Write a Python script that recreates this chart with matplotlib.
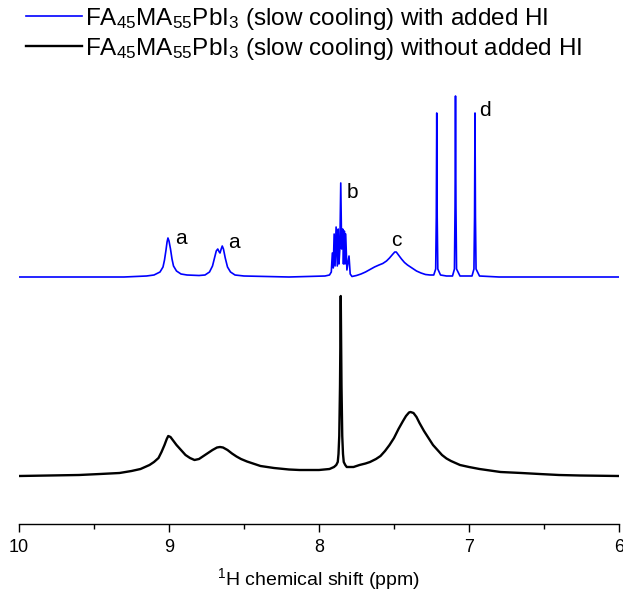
import matplotlib
matplotlib.use("Agg")
import matplotlib.pyplot as plt

plt.rcParams['font.family'] = ['Liberation Sans', 'DejaVu Sans']
plt.rcParams['mathtext.default'] = 'regular'

# spectrum with added HI (intensity above its own baseline)
ppm_hi = [10.0, 9.5, 9.3, 9.15, 9.10, 9.06, 9.04, 9.03, 9.02, 9.013, 9.007, 9.0, 8.99, 8.98,
          8.97, 8.95, 8.92, 8.88, 8.8, 8.76, 8.73, 8.71, 8.695, 8.685, 8.675, 8.665, 8.66,
          8.652, 8.645, 8.637, 8.625, 8.61, 8.59, 8.56, 8.5,
          8.2, 7.96, 7.93, 7.918, 7.911, 7.905, 7.899, 7.893, 7.886, 7.878, 7.872, 7.867,
          7.861, 7.855, 7.849, 7.842, 7.837, 7.831, 7.827, 7.822, 7.814, 7.80, 7.792,
          7.78, 7.75, 7.72, 7.69, 7.66, 7.63, 7.60, 7.575, 7.55, 7.53, 7.51, 7.495, 7.485,
          7.47, 7.45, 7.43, 7.41, 7.39, 7.37, 7.35, 7.32, 7.29, 7.26, 7.235,
          7.222, 7.218, 7.215, 7.212, 7.208, 7.19, 7.15, 7.11,
          7.097, 7.093, 7.09, 7.087, 7.083, 7.06, 7.02, 6.98, 6.967, 6.963, 6.96, 6.957,
          6.953, 6.93, 6.8, 6.5, 6.2, 6.0]
int_hi = [0, 0, 0, 1, 2, 5, 10, 17, 27, 35, 39, 36, 28, 18,
          11, 6, 3, 2, 1.5, 2, 5, 11, 20, 26, 28, 25, 24,
          28, 31, 28, 19, 10, 5, 2, 1,
          0, 1, 2, 5, 24, 9, 43, 11, 50, 11, 48, 13,
          28, 94, 28, 48, 13, 46, 13, 43, 7, 21, 3,
          0.5, 1.5, 3, 5, 7.5, 10, 12, 13.5, 16, 19, 22.5, 25, 25,
          22, 18, 14.5, 12, 10, 8, 6, 4, 2.5, 2, 2,
          8, 60, 164, 60, 8, 2, 1, 1,
          8, 70, 181, 70, 8, 1, 1, 1, 8, 60, 164, 60,
          8, 1, 0, 0, 0, 0]

# spectrum without added HI
ppm_no = [10.0, 9.8, 9.6, 9.46, 9.33, 9.25, 9.19, 9.13, 9.10, 9.07, 9.05, 9.03, 9.015,
          9.005, 8.99, 8.97, 8.95, 8.92, 8.89, 8.86, 8.83, 8.80, 8.77, 8.74, 8.71, 8.68,
          8.66, 8.64, 8.61, 8.58, 8.55, 8.52, 8.48, 8.44, 8.39, 8.3, 8.2, 8.13, 8.0,
          7.93, 7.9, 7.885, 7.875, 7.87, 7.865, 7.86, 7.855, 7.85, 7.845, 7.84, 7.835,
          7.825, 7.815, 7.77, 7.73, 7.69, 7.66, 7.62, 7.59, 7.56, 7.53, 7.50, 7.47, 7.44,
          7.42, 7.40, 7.39, 7.37, 7.35, 7.33, 7.30, 7.27, 7.24, 7.21, 7.18, 7.15, 7.12,
          7.09, 7.06, 7.0, 6.93, 6.86, 6.79, 6.65, 6.53, 6.4, 6.26, 6.0]
int_no = [0, 0.5, 1, 2, 3, 5, 7, 11, 14, 18, 24, 31, 37,
          40, 39, 35, 31, 26, 21, 18, 16, 17, 20, 23, 26, 28.5,
          29, 28.5, 26, 22.5, 19.5, 17, 14.5, 12.5, 10, 8, 6.5, 6, 6,
          7, 9, 11, 14, 22, 40, 90, 180, 90, 40, 22, 14,
          11, 9, 9, 11, 12.5, 14, 17, 20, 25, 31, 38, 47, 55,
          60, 63.5, 64, 63, 59, 53, 45, 38, 31, 26, 21, 17.5, 15,
          13, 11, 9, 7, 5.5, 4, 3, 2, 1, 0.5, 0]

offset_hi = 199

peak_labels = ['a', 'a', 'b', 'c', 'd']
label_ppm = [8.92, 8.565, 7.778, 7.482, 6.893]
label_y = [238, 233, 283, 236, 365]

fig = plt.figure(figsize=(6.23, 6.02), dpi=100)
ax = fig.add_axes([19/623, 1 - 524/602, 600/623, 519/602])

ax.plot(ppm_hi, [v + offset_hi for v in int_hi], color='#0000ff', lw=1.2,
        label=r'FA$_{45}$MA$_{55}$PbI$_{3}$ (slow cooling) with added HI')
ax.plot(ppm_no, int_no, color='black', lw=1.7,
        label=r'FA$_{45}$MA$_{55}$PbI$_{3}$ (slow cooling) without added HI')

for t, xp, yp in zip(peak_labels, label_ppm, label_y):
    ax.text(xp, yp, t, fontsize=15, ha='center', va='center')

ax.set_xlim(10, 6)
ax.set_ylim(-48, 471)
ax.set_xticks([10, 9, 8, 7, 6])
ax.set_xticks([9.5, 8.5, 7.5, 6.5], minor=True)
ax.tick_params(axis='x', which='major', length=6, width=1, labelsize=13, pad=5)
ax.tick_params(axis='x', which='minor', length=3.5, width=1)
ax.set_yticks([])
for s in ['left', 'right', 'top']:
    ax.spines[s].set_visible(False)
ax.spines['bottom'].set_linewidth(1)
ax.set_xlabel(r'$^{1}$H chemical shift (ppm)', fontsize=14, labelpad=7)

ax.legend(loc='upper left', bbox_to_anchor=(26/623, 1 - 6/602), bbox_transform=fig.transFigure,
          frameon=False, fontsize=17.5, handlelength=2.3, handletextpad=0.12,
          labelspacing=0.15, borderaxespad=0, borderpad=0)

fig.savefig('out.png', dpi=100)
